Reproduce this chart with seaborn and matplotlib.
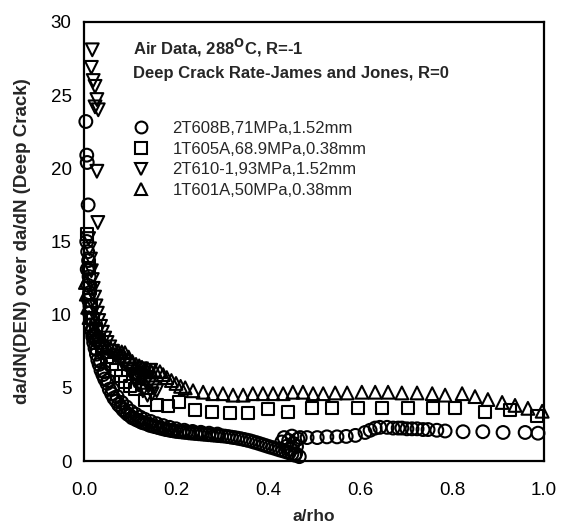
import numpy as np
import pandas as pd
import matplotlib
matplotlib.use("Agg")
import matplotlib.pyplot as plt
import seaborn as sns

# ---------------- data ----------------
labels = ["2T608B,71MPa,1.52mm", "1T605A,68.9MPa,0.38mm",
          "2T610-1,93MPa,1.52mm", "1T601A,50MPa,0.38mm"]

circ_x = [0.004, 0.006, 0.007, 0.009, 0.006, 0.008, 0.010, 0.007, 0.011, 0.009,
          0.012, 0.010, 0.013, 0.012, 0.015, 0.014, 0.017, 0.019, 0.021, 0.024,
          0.027, 0.030, 0.033, 0.037, 0.041, 0.045, 0.050, 0.055, 0.060, 0.065,
          0.070, 0.075, 0.080, 0.085, 0.090, 0.095, 0.100, 0.105, 0.110, 0.115,
          0.120, 0.125, 0.130, 0.136, 0.142, 0.148, 0.154, 0.160, 0.166, 0.172,
          0.178, 0.184, 0.190, 0.196, 0.202, 0.208, 0.215, 0.222, 0.229, 0.236,
          0.243, 0.250, 0.257, 0.264, 0.271, 0.278, 0.285, 0.292, 0.299, 0.306,
          0.313, 0.320, 0.327, 0.334, 0.341, 0.348, 0.355, 0.362, 0.369, 0.376,
          0.383, 0.390, 0.397, 0.404, 0.411, 0.418, 0.425, 0.432, 0.439, 0.446,
          0.452, 0.458, 0.430, 0.435, 0.440, 0.445, 0.450, 0.452, 0.455, 0.460,
          0.462, 0.465, 0.468, 0.470, 0.485, 0.507, 0.528, 0.550, 0.570, 0.590,
          0.611, 0.622, 0.633, 0.643, 0.659, 0.672, 0.683, 0.691, 0.702, 0.713,
          0.724, 0.737, 0.748, 0.767, 0.785, 0.824, 0.867, 0.911, 0.959, 0.987,
          0.020, 0.028, 0.036, 0.044, 0.052, 0.062, 0.072, 0.082, 0.092, 0.102,
          0.112, 0.122, 0.132, 0.145, 0.158, 0.172, 0.186, 0.200, 0.218, 0.236,
          0.254, 0.272, 0.290]
circ_y = [23.2, 20.9, 20.4, 17.5, 15.0, 14.3, 13.7, 13.1, 12.6, 12.0,
          11.5, 11.0, 10.6, 10.1, 9.7, 9.3, 8.9, 8.5, 8.1, 7.7,
          7.3, 6.9, 6.6, 6.2, 5.9, 5.6, 5.3, 4.9, 4.6, 4.3,
          4.1, 3.85, 3.7, 3.5, 3.35, 3.2, 3.1, 2.95, 2.9, 2.8,
          2.75, 2.65, 2.6, 2.55, 2.45, 2.4, 2.35, 2.3, 2.25, 2.2,
          2.15, 2.12, 2.08, 2.05, 2.02, 2.0, 1.97, 1.95, 1.92, 1.9,
          1.88, 1.86, 1.84, 1.82, 1.8, 1.78, 1.76, 1.74, 1.72, 1.7,
          1.67, 1.63, 1.6, 1.56, 1.52, 1.47, 1.42, 1.37, 1.3, 1.24,
          1.17, 1.1, 1.03, 0.96, 0.9, 0.83, 0.76, 0.7, 0.63, 0.56,
          0.48, 0.4, 1.3, 1.6, 1.0, 1.4, 0.8, 1.7, 1.2, 0.5,
          1.0, 1.5, 0.3, 1.6, 1.6, 1.6, 1.65, 1.65, 1.68, 1.75,
          1.95, 2.1, 2.25, 2.3, 2.3, 2.25, 2.25, 2.25, 2.2, 2.2,
          2.2, 2.15, 2.15, 2.1, 2.05, 2.0, 2.0, 1.95, 1.95, 1.9,
          8.6, 7.6, 6.8, 6.1, 5.5, 4.9, 4.4, 4.0, 3.7, 3.4,
          3.2, 3.0, 2.85, 2.7, 2.55, 2.42, 2.3, 2.2, 2.1, 2.02,
          1.96, 1.9, 1.84]

sq_x = [0.006, 0.010, 0.012, 0.016, 0.020, 0.026, 0.033, 0.040, 0.050, 0.060,
        0.070, 0.080, 0.090, 0.100, 0.111, 0.133, 0.158, 0.183, 0.206, 0.241,
        0.278, 0.317, 0.357, 0.400, 0.443, 0.496, 0.539, 0.596, 0.648, 0.704,
        0.759, 0.807, 0.872, 0.926, 0.985]
sq_y = [15.5, 13.2, 11.8, 10.6, 9.7, 9.0, 8.3, 7.8, 7.1, 6.6,
        6.2, 5.8, 5.4, 5.1, 4.9, 4.2, 3.8, 3.75, 4.0, 3.5,
        3.35, 3.3, 3.3, 3.55, 3.35, 3.6, 3.6, 3.6, 3.6, 3.6,
        3.6, 3.6, 3.35, 3.5, 3.1]

dn_x = [0.018, 0.016, 0.020, 0.024, 0.028, 0.024, 0.031, 0.028, 0.030,
        0.010, 0.012, 0.014, 0.016, 0.018, 0.020, 0.023, 0.026, 0.029, 0.032,
        0.036, 0.040, 0.045, 0.050, 0.056, 0.062, 0.068, 0.075, 0.082, 0.090,
        0.098, 0.105, 0.112, 0.120, 0.128, 0.135, 0.142, 0.150, 0.158, 0.125,
        0.132, 0.140, 0.118, 0.128, 0.138, 0.148, 0.110, 0.145]
dn_y = [28.1, 26.9, 26.0, 25.6, 24.7, 24.2, 24.0, 19.8, 16.3,
        15.2, 14.5, 13.8, 13.0, 12.4, 11.8, 11.2, 10.6, 10.1, 9.6,
        9.2, 8.8, 8.4, 8.1, 7.8, 7.5, 7.2, 7.0, 6.8, 6.6,
        6.3, 6.1, 5.9, 5.8, 5.6, 5.4, 5.2, 5.0, 4.8, 6.3,
        6.0, 5.7, 5.2, 4.8, 4.5, 4.6, 5.5, 6.2]

up_x = [0.003, 0.005, 0.008, 0.011, 0.015, 0.020, 0.025, 0.030, 0.036, 0.042,
        0.050, 0.058, 0.066, 0.074, 0.082, 0.089, 0.097, 0.105, 0.113, 0.120,
        0.126, 0.135, 0.145, 0.155, 0.165, 0.172, 0.180, 0.190, 0.200, 0.210,
        0.220, 0.237, 0.259, 0.280, 0.302, 0.324, 0.346, 0.367, 0.389, 0.411,
        0.433, 0.454, 0.476, 0.498, 0.520, 0.546, 0.572, 0.604, 0.633, 0.661,
        0.691, 0.724, 0.757, 0.785, 0.822, 0.850, 0.878, 0.909, 0.937, 0.965,
        0.996]
up_y = [12.2, 11.4, 10.5, 9.8, 9.2, 8.8, 8.5, 8.3, 8.1, 7.9,
        7.8, 7.7, 7.6, 7.5, 7.45, 7.4, 7.1, 6.8, 6.6, 6.5,
        6.4, 6.3, 6.2, 6.15, 6.1, 5.9, 5.7, 5.5, 5.3, 5.1,
        5.0, 4.8, 4.7, 4.6, 4.6, 4.5, 4.5, 4.6, 4.6, 4.6,
        4.6, 4.7, 4.7, 4.6, 4.6, 4.65, 4.65, 4.7, 4.7, 4.7,
        4.65, 4.65, 4.6, 4.5, 4.6, 4.4, 4.2, 4.0, 3.8, 3.6,
        3.4]

x_ticks = [0.0, 0.2, 0.4, 0.6, 0.8, 1.0]
x_tick_labels = ["0.0", "0.2", "0.4", "0.6", "0.8", "1.0"]
y_ticks = [0, 5, 10, 15, 20, 25, 30]
y_tick_labels = ["0", "5", "10", "15", "20", "25", "30"]

# ---------------- plotting ----------------
sns.set_style("white")
plt.rcParams["font.family"] = ["Liberation Sans", "DejaVu Sans"]

fig = plt.figure(figsize=(5.62, 5.27), dpi=100)
ax = fig.add_axes([84 / 562, 1 - 461 / 527, 460 / 562, 439 / 527])

series = [
    (circ_x, circ_y, "o", 85),
    (sq_x, sq_y, "s", 75),
    (dn_x, dn_y, "v", 85),
    (up_x, up_y, "^", 85),
]
for (xs, ys, mk, s), lab in zip(series, labels):
    df = pd.DataFrame({"x": xs, "y": ys})
    sns.scatterplot(data=df, x="x", y="y", ax=ax, marker=mk, s=s,
                    color="black", facecolors="none", edgecolor="black",
                    linewidth=1.5, label=lab, clip_on=False, legend=False)

ax.set_xlim(0, 1.0)
ax.set_ylim(0, 30)
ax.set_xticks(x_ticks)
ax.set_xticklabels(x_tick_labels)
ax.set_yticks(y_ticks)
ax.set_yticklabels(y_tick_labels)
ax.tick_params(axis="both", direction="in", length=5, width=1.2,
               labelsize=13.5, colors="black")
ax.tick_params(axis="x", pad=15)
ax.tick_params(axis="y", pad=9)
for sp in ax.spines.values():
    sp.set_visible(True)
    sp.set_color("black")
    sp.set_linewidth(1.6)

ax.set_xlabel("a/rho", fontsize=12.5, fontweight="bold", labelpad=7)
ax.set_ylabel("da/dN(DEN) over da/dN (Deep Crack)", fontsize=13.5,
              fontweight="bold", labelpad=14)

ax.text(0.107, 0.94, "Air Data, 288$^{\\mathbf{O}}$C, R=-1", transform=ax.transAxes,
        fontsize=12, fontweight="bold", va="center", ha="left")
ax.text(0.107, 0.883, "Deep Crack Rate-James and Jones, R=0", transform=ax.transAxes,
        fontsize=12, fontweight="bold", va="center", ha="left")

handles = [plt.Line2D([], [], marker=m, linestyle="none", markersize=8.5,
                      markerfacecolor="none", markeredgecolor="black",
                      markeredgewidth=1.5) for m in ["o", "s", "v", "^"]]
leg = ax.legend(handles, labels, loc="upper left",
                bbox_to_anchor=(0.105, 0.775), frameon=False, fontsize=12,
                handlelength=1.0, handletextpad=1.4, labelspacing=0.35,
                borderpad=0, borderaxespad=0)

fig.savefig("out.png", dpi=100)
